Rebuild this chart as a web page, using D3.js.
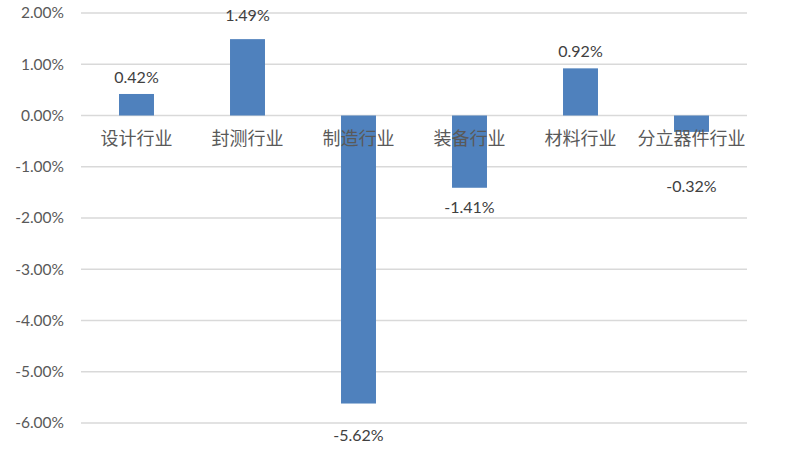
<!DOCTYPE html>
<html><head><meta charset="utf-8">
<script src="https://cdn.jsdelivr.net/npm/d3@7"></script>
<style>body{margin:0;background:#fff;}svg{display:block;}</style>
</head><body>
<script>
const categories = ["设计行业","封测行业","制造行业","装备行业","材料行业","分立器件行业"];
const values = [0.42, 1.49, -5.62, -1.41, 0.92, -0.32];
const yTicks = [2, 1, 0, -1, -2, -3, -4, -5, -6];

const W = 790, H = 463;
const svg = d3.select("body").append("svg").attr("width", W).attr("height", H);
const x = d3.scaleBand().domain(categories).range([81, 747]).paddingInner(0.685).paddingOuter(0.3425);
const y = d3.scaleLinear().domain([-6, 2]).range([423, 13]);

const numFont = "Lato, 'Liberation Sans', sans-serif";
const cjkFont = "'Noto Sans CJK SC', sans-serif";

// grid
svg.append("g").selectAll("line").data(yTicks).join("line")
  .attr("x1", 81).attr("x2", 747)
  .attr("y1", d => y(d)).attr("y2", d => y(d))
  .attr("stroke", "#d9d9d9").attr("stroke-width", 1.3);

// y axis labels
const yAxis = d3.axisLeft(y).tickValues(yTicks).tickSize(0).tickPadding(0)
  .tickFormat(d => d.toFixed(2) + "%");
const ga = svg.append("g").attr("transform", "translate(64,0)").call(yAxis);
ga.select(".domain").remove();
ga.selectAll("text").attr("font-family", numFont).attr("font-size", 15.5).attr("fill", "#595959");

// bars
svg.append("g").selectAll("rect").data(values).join("rect")
  .attr("x", (d, i) => x(categories[i]))
  .attr("width", x.bandwidth())
  .attr("y", d => y(Math.max(0, d)))
  .attr("height", d => Math.abs(y(d) - y(0)))
  .attr("fill", "#4f81bd");

// category labels
const xAxis = d3.axisBottom(x).tickSize(0).tickPadding(0);
const gx = svg.append("g").attr("transform", `translate(0,${y(0)})`).call(xAxis);
gx.select(".domain").remove();
gx.selectAll("text").attr("font-family", cjkFont).attr("font-size", 18).attr("fill", "#595959")
  .attr("dy", null).attr("y", 29);

// data labels (placement mimics the reference layout)
function labelY(d) {
  if (d >= 0) return d > 1.2 ? y(d) - 18 : y(d) - 11;
  if (d < -5) return y(d) + 37;
  return Math.max(y(d) + 25, y(0) + 76);
}
svg.append("g").selectAll("text").data(values).join("text")
  .attr("x", (d, i) => x(categories[i]) + x.bandwidth() / 2)
  .attr("y", labelY)
  .attr("text-anchor", "middle")
  .attr("font-family", numFont).attr("font-size", 16).attr("fill", "#404040")
  .text(d => d.toFixed(2) + "%");
</script>
</body></html>
